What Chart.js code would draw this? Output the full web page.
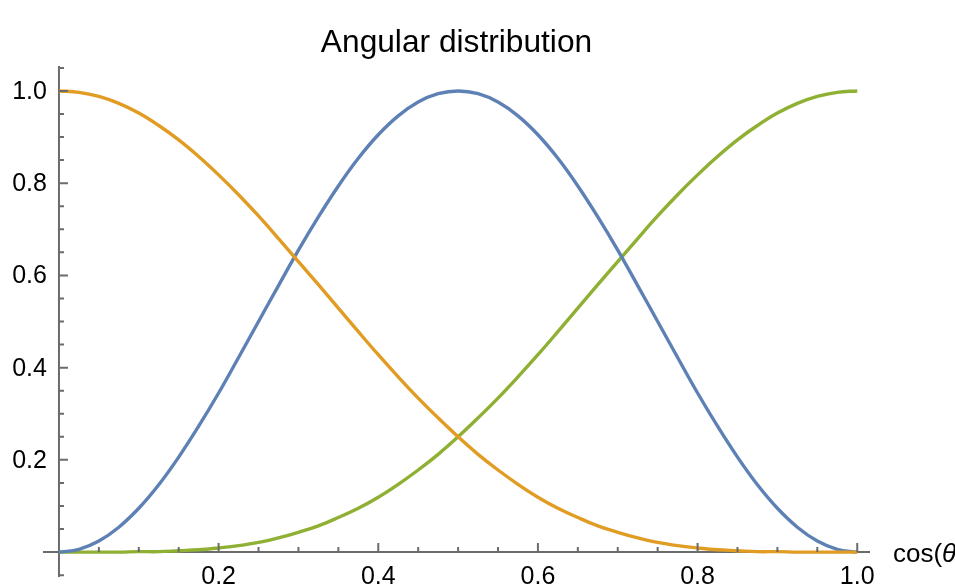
<!DOCTYPE html>
<html>
<head>
<meta charset="utf-8">
<script src="https://cdn.jsdelivr.net/npm/chart.js@4"></script>
<style>
  html, body { margin: 0; padding: 0; background: #fff; }
  #wrap { width: 955px; height: 586px; }
</style>
</head>
<body>
<div id="wrap"><canvas id="myChart"></canvas></div>
<script>
// cos(theta) sample points
const cosTheta = [0, 0.025, 0.05, 0.075, 0.1, 0.125, 0.15, 0.175, 0.2, 0.225,
                  0.25, 0.275, 0.3, 0.325, 0.35, 0.375, 0.4, 0.425, 0.45, 0.475,
                  0.5, 0.525, 0.55, 0.575, 0.6, 0.625, 0.65, 0.675, 0.7, 0.725,
                  0.75, 0.775, 0.8, 0.825, 0.85, 0.875, 0.9, 0.925, 0.95, 0.975, 1.0];

const orangeVals = [1, 0.997, 0.988, 0.973, 0.952, 0.925, 0.894, 0.858, 0.818, 0.775,
                    0.729, 0.680, 0.630, 0.580, 0.529, 0.478, 0.428, 0.380, 0.334, 0.291,
                    0.25, 0.212, 0.178, 0.147, 0.119, 0.095, 0.075, 0.057, 0.043, 0.031,
                    0.021, 0.014, 0.009, 0.005, 0.003, 0.001, 0.001, 0, 0, 0, 0];
const blueVals = [0, 0.006, 0.024, 0.054, 0.095, 0.146, 0.206, 0.273, 0.345, 0.422,
                  0.5, 0.578, 0.655, 0.727, 0.794, 0.854, 0.905, 0.946, 0.976, 0.994,
                  1, 0.994, 0.976, 0.946, 0.905, 0.854, 0.794, 0.727, 0.655, 0.578,
                  0.5, 0.422, 0.345, 0.273, 0.206, 0.146, 0.095, 0.054, 0.024, 0.006, 0];
const greenVals = [0, 0, 0, 0, 0.001, 0.001, 0.003, 0.005, 0.009, 0.014,
                   0.021, 0.031, 0.043, 0.057, 0.075, 0.095, 0.119, 0.147, 0.178, 0.212,
                   0.25, 0.291, 0.334, 0.380, 0.428, 0.478, 0.529, 0.580, 0.630, 0.680,
                   0.729, 0.775, 0.818, 0.858, 0.894, 0.925, 0.952, 0.973, 0.988, 0.997, 1];

const xTicks = [0.2, 0.4, 0.6, 0.8, 1.0];
const yTicks = [0.2, 0.4, 0.6, 0.8, 1.0];
const xMinor = [0.05, 0.1, 0.15, 0.25, 0.3, 0.35, 0.45, 0.5, 0.55, 0.65, 0.7, 0.75, 0.85, 0.9, 0.95];
const yMinor = [-0.05, 0.05, 0.1, 0.15, 0.25, 0.3, 0.35, 0.45, 0.5, 0.55, 0.65, 0.7, 0.75, 0.85, 0.9, 0.95, 1.05];

const FONT = '"Liberation Sans", Arial, sans-serif';
const AXIS = '#6b6b6b';

function pts(ys) {
  return cosTheta.map((x, i) => ({ x: x, y: ys[i] }));
}

// axes crossing at the origin, ticks pointing inward
const originAxes = {
  id: 'originAxes',
  beforeDatasetsDraw(chart) {
    const ctx = chart.ctx;
    const xs = chart.scales.x, ys = chart.scales.y;
    const x0 = xs.getPixelForValue(0), y0 = ys.getPixelForValue(0);
    ctx.save();
    ctx.strokeStyle = AXIS;
    ctx.lineWidth = 2;
    ctx.beginPath();
    ctx.moveTo(xs.left, y0); ctx.lineTo(xs.right, y0);
    ctx.moveTo(x0, ys.top); ctx.lineTo(x0, ys.bottom);
    ctx.stroke();

    ctx.fillStyle = '#000';
    ctx.font = '25px ' + FONT;
    ctx.textAlign = 'center';
    ctx.textBaseline = 'alphabetic';
    xTicks.forEach(v => ctx.fillText(v.toFixed(1), xs.getPixelForValue(v), y0 + 32));
    ctx.textAlign = 'right';
    ctx.textBaseline = 'middle';
    yTicks.forEach(v => ctx.fillText(v.toFixed(1), x0 - 12, ys.getPixelForValue(v) + 1));

    // axis label cos(θ)
    ctx.font = '26px ' + FONT;
    ctx.textAlign = 'left';
    ctx.textBaseline = 'alphabetic';
    let lx = xs.right + 23;
    ctx.fillText('cos(', lx, y0 + 10);
    lx += ctx.measureText('cos(').width;
    ctx.font = 'italic 26px ' + FONT;
    ctx.fillText('θ', lx, y0 + 10);
    lx += ctx.measureText('θ').width;
    ctx.font = '26px ' + FONT;
    ctx.fillText(')', lx, y0 + 10);
    ctx.restore();
  },
  afterDatasetsDraw(chart) {
    const ctx = chart.ctx;
    const xs = chart.scales.x, ys = chart.scales.y;
    const x0 = xs.getPixelForValue(0), y0 = ys.getPixelForValue(0);
    ctx.save();
    ctx.strokeStyle = AXIS;
    ctx.lineWidth = 2;
    ctx.beginPath();
    xTicks.forEach(v => { const p = xs.getPixelForValue(v); ctx.moveTo(p, y0); ctx.lineTo(p, y0 - 9); });
    xMinor.forEach(v => { const p = xs.getPixelForValue(v); ctx.moveTo(p, y0); ctx.lineTo(p, y0 - 5); });
    yTicks.forEach(v => { const p = ys.getPixelForValue(v); ctx.moveTo(x0, p); ctx.lineTo(x0 + 9, p); });
    yMinor.forEach(v => { const p = ys.getPixelForValue(v); ctx.moveTo(x0, p); ctx.lineTo(x0 + 5, p); });
    ctx.stroke();
    ctx.restore();
  }
};

const data = {
  datasets: [
    { data: pts(orangeVals), borderColor: '#E19C24' },
    { data: pts(blueVals), borderColor: '#5E81B5' },
    { data: pts(greenVals), borderColor: '#8FB032' }
  ].map(d => Object.assign(d, {
    borderWidth: 3.4,
    pointRadius: 0,
    fill: false,
    tension: 0.4,
    clip: false
  }))
};

const config = {
  type: 'line',
  data: data,
  options: {
    responsive: true,
    maintainAspectRatio: false,
    animation: false,
    layout: { padding: { left: 43, right: 85, top: 0, bottom: 9 } },
    scales: {
      x: { type: 'linear', min: -0.02, max: 1.016, display: false },
      y: { type: 'linear', min: -0.054, max: 1.054, display: false }
    },
    plugins: {
      legend: { display: false },
      tooltip: { enabled: false },
      title: {
        display: true,
        text: 'Angular distribution',
        color: '#000',
        font: { family: FONT, size: 31.7, weight: 'normal' },
        padding: { top: 24, bottom: 4 }
      }
    }
  },
  plugins: [originAxes]
};

const myChart = new Chart(document.getElementById('myChart'), config);
</script>
</body>
</html>
